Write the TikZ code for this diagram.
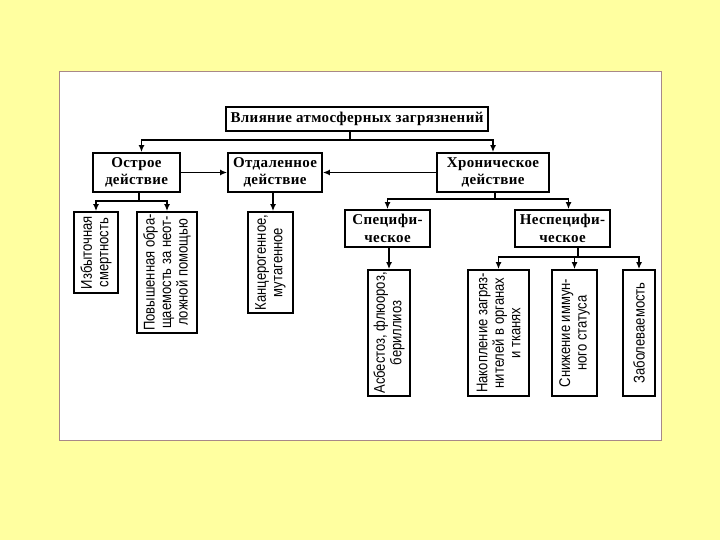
\documentclass[tikz,border=0pt]{standalone}
\usepackage{fontspec}
\setmainfont{Liberation Serif}[LetterSpace=2.5]
\newfontfamily\narrowsans[FakeStretch=0.84]{Liberation Sans}
\usetikzlibrary{arrows.meta}
\definecolor{bgyellow}{HTML}{FFFFA0}
\definecolor{panelborder}{HTML}{A88888}
\begin{document}
\begin{tikzpicture}[x=1pt,y=-1pt,
  box/.style={draw, line width=1.8pt, inner sep=0pt, align=center,
    font=\fontsize{15}{17.5}\selectfont\bfseries},
  vbox/.style={draw, line width=1.8pt, rotate=90, inner sep=0pt, align=center,
    font=\narrowsans\fontsize{15.5}{16.5}\selectfont},
  conn/.style={line width=1.4pt},
  arr/.style={conn, -{Latex[length=7pt,width=6pt]}}]
% background and panel
\fill[bgyellow] (0,0) rectangle (720,540);
\draw[panelborder, fill=white, line width=0.8pt] (59,71) rectangle (661,440);
% level 1
\node[box, minimum width=262pt, minimum height=24pt] (top) at (357,119) {Влияние атмосферных загрязнений};
% level 2
\node[box, minimum width=87pt, minimum height=39pt] (ostr) at (136.5,172.5) {Острое\\действие};
\node[box, minimum width=94pt, minimum height=39pt] (otd) at (275,172.5) {Отдаленное\\действие};
\node[box, minimum width=112pt, minimum height=39pt] (chron) at (493,172.5) {Хроническое\\действие};
% level 3
\node[vbox, minimum width=81pt, minimum height=44pt] (izb) at (96,252.5) {Избыточная\\смертность};
\node[vbox, minimum width=121pt, minimum height=60pt] (pov) at (167,272.5) {Повышенная обра-\\щаемость за неот-\\ложной помощью};
\node[vbox, minimum width=101pt, minimum height=45pt] (kanc) at (270.5,262.5) {Канцерогенное,\\мутагенное};
\node[box, minimum width=85pt, minimum height=37pt] (spec) at (387.5,228.5) {Специфи-\\ческое};
\node[box, minimum width=95pt, minimum height=37pt] (nespec) at (562.5,228.5) {Неспецифи-\\ческое};
% level 4
\node[vbox, minimum width=126pt, minimum height=42pt] (asb) at (389,333) {Асбестоз, флюороз,\\бериллиоз};
\node[vbox, minimum width=126pt, minimum height=61pt] (nak) at (498.5,333) {Накопление загряз-\\нителей в органах\\и тканях};
\node[vbox, minimum width=126pt, minimum height=45pt] (sniz) at (574.5,333) {Снижение иммун-\\ного статуса};
\node[vbox, minimum width=126pt, minimum height=32pt] (zab) at (639,333) {Заболеваемость};
% junctions
\coordinate (j0) at (350,140);
\coordinate (j1) at (139,201);
\coordinate (j2) at (495,199);
\coordinate (j3) at (578,257);
% connectors
\draw[conn] (top.south -| j0) -- (j0);
\draw[arr] (j0) -| ([xshift=5pt]ostr.north);
\draw[arr] (j0) -| (chron.north);
\draw[arr] (ostr.east) -- (otd.west);
\draw[arr] (chron.west) -- (otd.east);
\draw[conn] (ostr.south -| j1) -- (j1);
\draw[arr] (j1) -| (izb.east);
\draw[arr] (j1) -| (pov.east);
\draw[arr] ([xshift=2.5pt]otd.south -| kanc.east) -- ([xshift=2.5pt]kanc.east);
\draw[conn] (chron.south -| j2) -- (j2);
\draw[arr] (j2) -| (spec.north);
\draw[arr] (j2) -| ([xshift=6pt]nespec.north);
\draw[arr] (spec.south -| asb.east) -- (asb.east);
\draw[conn] (nespec.south -| j3) -- (j3);
\draw[arr] (j3) -| (nak.east);
\draw[arr] (j3) -| (sniz.east);
\draw[arr] (j3) -| (zab.east);
\end{tikzpicture}
\end{document}
